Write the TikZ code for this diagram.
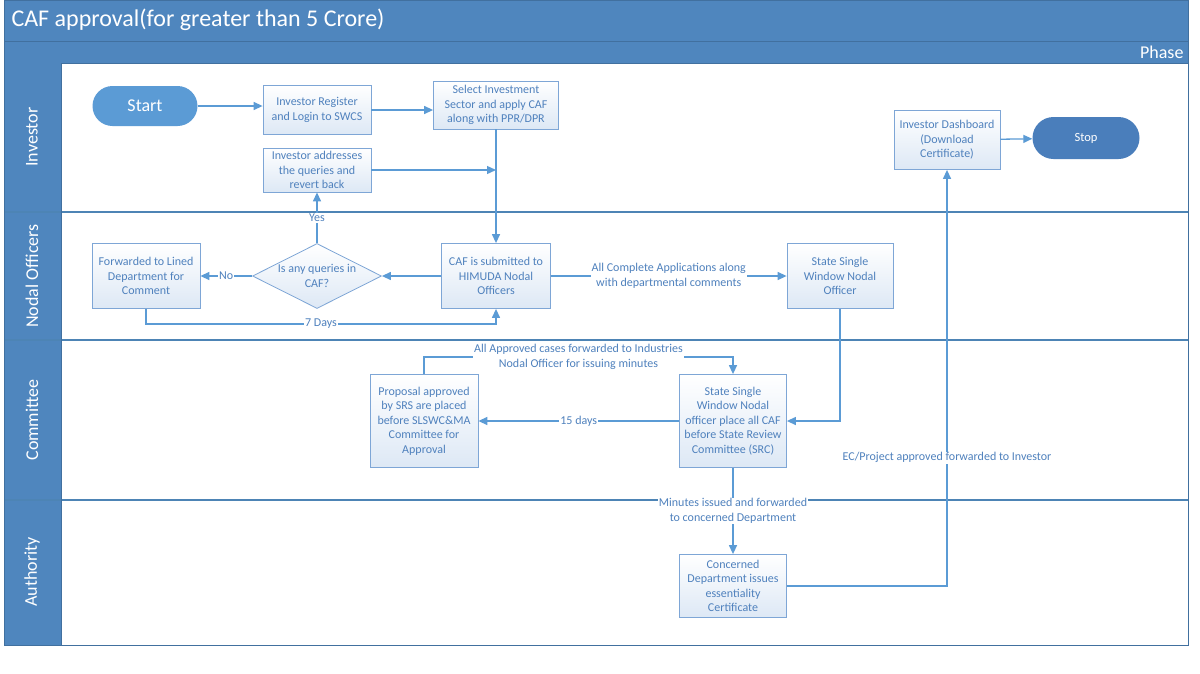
\documentclass[tikz,border=0pt]{standalone}
\usepackage{fontspec}
\setmainfont{Carlito}
\usepackage{tikz}
\usetikzlibrary{calc,arrows.meta,shapes.geometric}
\definecolor{band}{HTML}{4F86BE}
\definecolor{bandline}{HTML}{41709F}
\definecolor{flowline}{HTML}{5B9BD5}
\definecolor{boxline}{HTML}{7EA6D6}
\definecolor{boxtext}{HTML}{4F81BD}
\definecolor{boxfill}{HTML}{DDE8F5}
\definecolor{startfill}{HTML}{5B9BD5}
\definecolor{stopfill}{HTML}{4A7EBB}
\tikzset{
  procbox/.style={draw=boxline, line width=0.8pt, top color=white, bottom color=boxfill,
    text=boxtext, align=center, inner sep=2pt, font=\fontsize{12}{14.5}\selectfont},
  decision/.style={procbox, diamond, inner sep=0pt},
  terminal/.style={draw=none, text=white, align=center},
  flow/.style={draw=flowline, line width=1.3pt, -{Triangle[length=9pt,width=8pt]}},
  flowlabel/.style={fill=white, text=boxtext, inner sep=1pt, align=center,
    font=\fontsize{12}{14.5}\selectfont},
  lanename/.style={rotate=90, text=white, font=\fontsize{18}{20}\selectfont},
}
\begin{document}
\begin{tikzpicture}[x=1pt,y=-1pt]
\useasboundingbox[fill=white] (0,0) rectangle (1200,673);
\fill[band] (4,0) rectangle (1188,63);
\fill[band] (4,63) rectangle (61,645);
\draw[bandline] (4,41) -- (1188,41);
\foreach \y in {212,340,500}
  \draw[flowline!85!black, line width=1.3pt] (4,\y) -- (1188,\y);
\draw[bandline, line width=0.8pt] (4,0) rectangle (1188,645);
\draw[bandline] (61,63) -- (61,645);
\draw[bandline] (61,63) -- (1188,63);
\node[anchor=west, text=white, font=\fontsize{24}{28}\selectfont] (title) at (8,20) {CAF approval(for greater than 5 Crore)};
\node[anchor=east, text=white, font=\fontsize{18}{20}\selectfont] (phase) at (1187,52) {Phase};
\node[lanename] (laneinv) at (32,137) {Investor};
\node[lanename] (lanenod) at (32,276) {Nodal Officers};
\node[lanename] (lanecom) at (32,420) {Committee};
\node[lanename] (laneaut) at (32,572) {Authority};

\node[terminal, fill=startfill, rounded corners=20pt, minimum width=105pt, minimum height=40pt,
  font=\fontsize{18}{20}\selectfont] (start) at (145,106) {Start};
\node[procbox, minimum width=108pt, minimum height=49pt] (reg) at (317,110) {Investor Register\\and Login to SWCS};
\node[procbox, minimum width=125pt, minimum height=48pt] (sel) at (496,105) {Select Investment\\Sector and apply CAF\\along with PPR/DPR};
\node[procbox, minimum width=108pt, minimum height=44pt] (addr) at (317,170) {Investor addresses\\the queries and\\revert back};
\node[procbox, minimum width=106pt, minimum height=59pt] (dash) at (947,140) {Investor Dashboard\\(Download\\Certificate)};
\node[terminal, fill=stopfill, rounded corners=21pt, minimum width=107pt, minimum height=42pt,
  font=\fontsize{12.5}{14}\selectfont] (stop) at (1086,138) {Stop};
\node[procbox, minimum width=108pt, minimum height=65pt] (fwd) at (146,276) {Forwarded to Lined\\Department for\\Comment};
\node[decision, minimum width=129pt, minimum height=65pt] (query) at (317,276) {};
\node[text=boxtext, align=center, font=\fontsize{12}{14.5}\selectfont] (querytext) at (query) {Is any queries in\\CAF?};
\node[procbox, minimum width=109pt, minimum height=65pt] (cafsub) at (496,276) {CAF is submitted to\\HIMUDA Nodal\\Officers};
\node[procbox, minimum width=106pt, minimum height=65pt] (sswno) at (840,276) {State Single\\Window Nodal\\Officer};
\node[procbox, minimum width=108pt, minimum height=93pt] (prop) at (424,421) {Proposal approved\\by SRS are placed\\before SLSWC\&MA\\Committee for\\Approval};
\node[procbox, minimum width=107pt, minimum height=93pt] (place) at (733,421) {State Single\\Window Nodal\\officer place all CAF\\before State Review\\Committee (SRC)};
\node[procbox, minimum width=107pt, minimum height=63pt] (conc) at (733,586) {Concerned\\Department issues\\essentiality\\Certificate};

\draw[flow] (start.east) -- (start.east -| reg.west);
\draw[flow] (reg.east) -- (reg.east -| sel.west);
\draw[flow] (sel) -- (cafsub);
\draw[flow] (addr.east) -- (addr.east -| sel.south);
\draw[flow] (query) -- node[flowlabel] {Yes} (addr);
\draw[flow] (cafsub) -- (query);
\draw[flow] (query) -- node[flowlabel] {No} (fwd);
\draw[flow] (fwd.south) |- node[flowlabel, pos=0.75] {7 Days} ($(cafsub.south)+(0,15)$) -- (cafsub.south);
\draw[flow] (cafsub) -- node[flowlabel] {All Complete Applications along\\with departmental comments} (sswno);
\draw[flow] (sswno.south) |- (place.east);
\draw[flow] (place) -- node[flowlabel] {15 days} (prop);
\draw[flow] (prop.north) |- node[flowlabel, pos=0.75] {All Approved cases forwarded to Industries\\Nodal Officer for issuing minutes} ($(place.north)+(0,-17)$) -- (place.north);
\draw[flow] (place) -- node[flowlabel] {Minutes issued and forwarded\\to concerned Department} (conc);
\draw[flow] (conc.east) -| node[flowlabel, pos=0.654] {EC/Project approved forwarded to Investor} (dash.south);
\draw[flow] (dash) -- (stop);
\end{tikzpicture}
\end{document}
